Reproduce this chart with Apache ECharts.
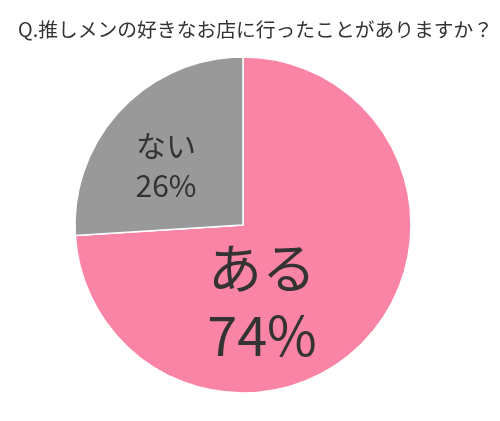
<!DOCTYPE html>
<html><head><meta charset="utf-8">
<script src="https://cdn.jsdelivr.net/npm/echarts@6/dist/echarts.min.js"></script>
<style>html,body{margin:0;padding:0;background:#fff}#c{width:500px;height:421px}</style>
</head><body><div id="c"></div>
<script>
const titleText = 'Q.推しメンの好きなお店に行ったことがありますか？';
const categories = ['ある', 'ない'];
const values = [74, 26];
const colors = ['#F984A6', '#999999'];

const chart = echarts.init(document.getElementById('c'));
const font = '"Noto Sans CJK JP", "Noto Sans", sans-serif';
chart.setOption({
  animation: false,
  title: {
    text: titleText, left: 13, top: 15,
    textStyle: { fontFamily: font, fontSize: 19.8, fontWeight: 'normal', color: '#333' }
  },
  series: [{
    type: 'pie',
    center: [243, 225],
    radius: [0, 168],
    startAngle: 90,
    clockwise: true,
    itemStyle: { borderColor: '#fff', borderWidth: 1.5 },
    label: {
      show: true, position: 'inside', formatter: '{b}\n{d}%',
      fontFamily: font, color: '#333'
    },
    labelLine: { show: false },
    data: categories.map((c, i) => ({
      name: c, value: values[i], itemStyle: { color: colors[i] },
      label: i === 0 ? { fontSize: 54, lineHeight: 67 } : { fontSize: 30, lineHeight: 40 }
    })),
    labelLayout: function (p) {
      return p.dataIndex === 0
        ? { x: 262, y: 302, align: 'center', verticalAlign: 'middle' }
        : { x: 166, y: 166, align: 'center', verticalAlign: 'middle' };
    }
  }]
});
</script></body></html>
